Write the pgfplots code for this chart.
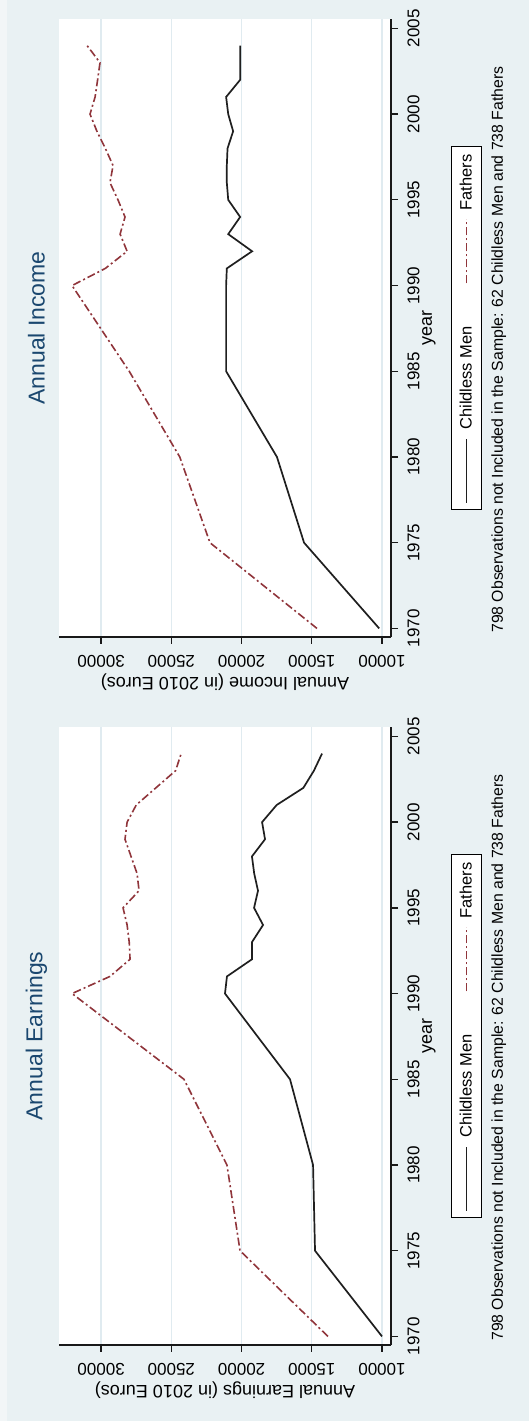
\documentclass[border=0pt]{standalone}
\usepackage{pgfplots}
\usepackage{pgfplotstable}
\pgfplotsset{compat=1.18}
\usepackage{fontspec}
\setmainfont{Liberation Sans}
\definecolor{bgc}{RGB}{233,241,243}
\definecolor{bgl}{RGB}{242,246,247}
\definecolor{gridc}{RGB}{224,235,240}
\definecolor{maroonS}{RGB}{144,53,59}
\definecolor{navyS}{RGB}{26,71,111}

\pgfplotstableread{
year val
1970 10000
1975 14770
1980 14910
1985 16550
1990 21180
1991 21040
1992 19260
1993 19260
1994 18470
1995 19110
1996 18830
1997 19100
1998 19260
1999 18330
2000 18540
2001 17500
2002 15600
2003 14850
2004 14270
}\earnchild

\pgfplotstableread{
year val
1970 13850
1975 20110
1980 21040
1985 24100
1990 32070
1991 29370
1992 27940
1993 28000
1994 28150
1995 28440
1996 27300
1997 27440
1998 27870
1999 28300
2000 28150
2001 27500
2002 26100
2003 24700
2004 24300
}\earnfather

\pgfplotstableread{
year val
1970 10200
1975 15550
1980 17480
1985 21100
1990 21100
1991 21050
1992 19250
1993 20950
1994 20100
1995 20950
1996 21050
1997 21050
1998 21000
1999 20600
2000 20950
2001 21100
2002 20100
2003 20100
2004 20100
}\incchild

\pgfplotstableread{
year val
1970 14630
1975 22250
1980 24400
1985 28000
1990 32070
1991 29700
1992 28150
1993 28650
1994 28300
1995 28800
1996 29370
1997 29150
1998 29700
1999 30300
2000 30790
2001 30430
2002 30250
2003 30080
2004 31000
}\incfather

\pgfplotsset{
  stata/.style={
    scale only axis, width=618pt, height=332pt,
    anchor=south west, clip mode=individual,
    xmin=1969.5, xmax=2005.55, ymin=9360, ymax=33000,
    axis x line*=bottom, axis y line*=left,
    axis line style={line width=1.3pt, black!90},
    axis background/.style={fill=white},
    xtick={1970,1975,...,2005},
    ytick={10000,15000,...,30000},
    tick align=outside, major tick length=7pt,
    every tick/.style={line width=1.3pt, black!90},
    ymajorgrids, grid style={line width=1.3pt, gridc},
    /pgf/number format/1000 sep={},
    /pgf/number format/assume math mode=true,
    scaled y ticks=false, scaled x ticks=false,
    xticklabel style={font=\fontsize{17}{20}\selectfont, anchor=north},
    xticklabel shift=6pt,
    yticklabel style={font=\fontsize{17}{20}\selectfont, rotate=90, anchor=south},
    yticklabel shift=8pt,
    xlabel={year},
    xlabel style={at={(axis description cs:0.5,-0.1145)}, anchor=center, font=\fontsize{18}{20}\selectfont},
    ylabel style={at={(axis description cs:-0.0728,0.5)}, anchor=center, font=\fontsize{18}{20}\selectfont},
    title style={at={(axis description cs:0.5,1.05)}, anchor=center, font=\fontsize{23}{25}\selectfont, text=navyS},
    legend columns=2,
    legend image code/.code={\draw[#1] (0pt,0pt) -- (64pt,0pt);},
    legend style={at={(0.5,-0.227)}, anchor=center, draw=black, line width=0.9pt, fill=white,
      font=\fontsize{16.5}{18}\selectfont, inner xsep=6pt, inner ysep=6pt,
      /tikz/every odd column/.append style={column sep=6pt},
      /tikz/every even column/.append style={column sep=40pt}},
  },
  child/.style={draw=black!88, line width=1.7pt, no markers},
  father/.style={draw=maroonS, line width=1.6pt, no markers, dash pattern=on 8pt off 3pt on 2pt off 3pt},
}

\begin{document}
\begin{tikzpicture}
\fill[bgc] (-529pt,0pt) rectangle (0pt,1421pt);
\fill[bgl] (-529pt,0pt) rectangle (-522pt,1421pt);
\begin{scope}[transform canvas={rotate=90}]
\begin{axis}[stata, at={(76pt,138pt)},
  title={Annual Earnings}, ylabel={Annual Earnings (in 2010 Euros)}]
\addplot[child] table[x=year,y=val]{\earnchild};
\addlegendentry{Childless Men}
\addplot[father] table[x=year,y=val]{\earnfather};
\addlegendentry{Fathers}
\node[anchor=west, font=\fontsize{15.8}{18}\selectfont, inner sep=0pt] at (axis description cs:0.0065,-0.325)
  {798 Observations not Included in the Sample: 62 Childless Men and 738 Fathers};
\end{axis}
\begin{axis}[stata, at={(784pt,138pt)},
  title={Annual Income}, ylabel={Annual Income (in 2010 Euros)}]
\addplot[child] table[x=year,y=val]{\incchild};
\addlegendentry{Childless Men}
\addplot[father] table[x=year,y=val]{\incfather};
\addlegendentry{Fathers}
\node[anchor=west, font=\fontsize{15.8}{18}\selectfont, inner sep=0pt] at (axis description cs:0.0065,-0.325)
  {798 Observations not Included in the Sample: 62 Childless Men and 738 Fathers};
\end{axis}
\end{scope}
\pgfresetboundingbox
\path[use as bounding box] (-529pt,0pt) rectangle (0pt,1421pt);
\end{tikzpicture}
\end{document}
